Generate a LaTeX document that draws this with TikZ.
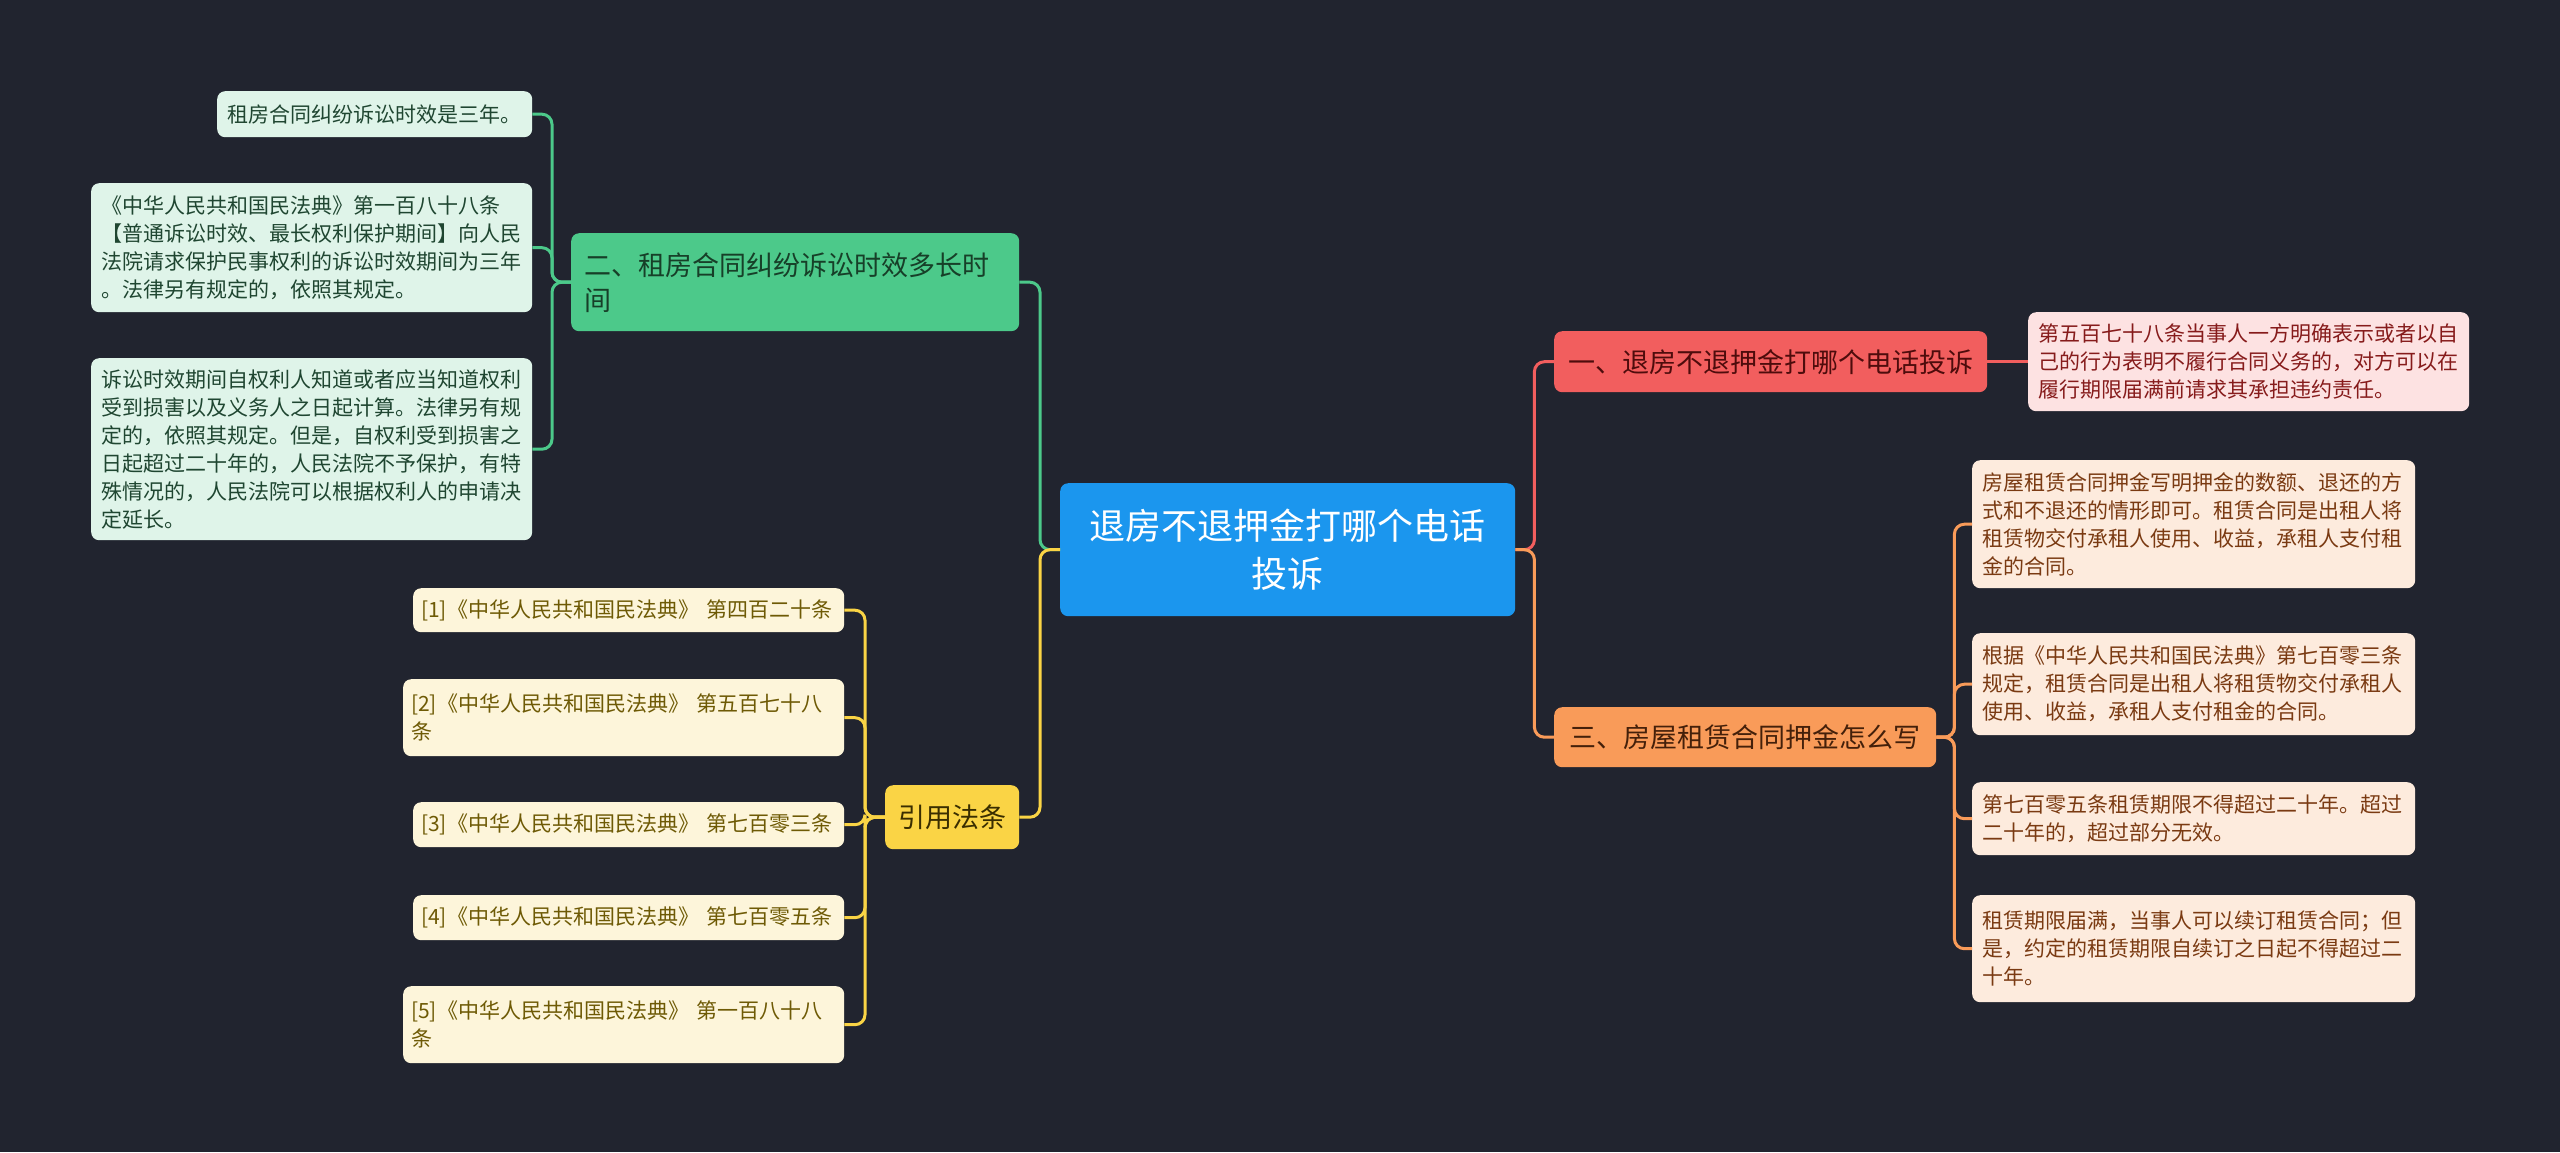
\documentclass[tikz,border=0pt]{standalone}
\usepackage{fontspec}
\setmainfont{Noto Sans CJK SC}
\definecolor{bg}{HTML}{21242F}
\definecolor{rootc}{HTML}{1B96EE}
\definecolor{gbr}{HTML}{4CC98A}
\definecolor{gtxt}{HTML}{173F28}
\definecolor{gleafc}{HTML}{DFF4E9}
\definecolor{gleaft}{HTML}{1F4631}
\definecolor{ybr}{HTML}{FAD445}
\definecolor{ytxt}{HTML}{3A2E00}
\definecolor{yleafc}{HTML}{FDF5DA}
\definecolor{yleaft}{HTML}{6E5A05}
\definecolor{rbr}{HTML}{F25E5E}
\definecolor{rtxt}{HTML}{4E0C0C}
\definecolor{rleafc}{HTML}{FDE2E2}
\definecolor{rleaft}{HTML}{861B1B}
\definecolor{obr}{HTML}{F99B59}
\definecolor{otxt}{HTML}{44200A}
\definecolor{oleafc}{HTML}{FDEBDD}
\definecolor{oleaft}{HTML}{7A3A12}
\tikzset{
  box/.style={anchor=north west, rounded corners=8pt, inner ysep=3pt},
  leaf/.style={box, inner xsep=10pt, align=left, font=\fontsize{21}{28}\selectfont},
  gleaf/.style={leaf, fill=gleafc, text=gleaft},
  yleaf/.style={leaf, fill=yleafc, text=yleaft, inner xsep=8pt},
  rleaf/.style={leaf, fill=rleafc, text=rleaft},
  oleaf/.style={leaf, fill=oleafc, text=oleaft},
  branch/.style={box, font=\fontsize{27}{35}\selectfont},
  conn/.style={line width=3pt, rounded corners=10pt},
}
\begin{document}
\begin{tikzpicture}[x=1pt,y=-1pt]
\fill[bg] (0,0) rectangle (2560,1152);
\useasboundingbox (0,0) rectangle (2560,1152);

% root
\node[box, fill=rootc, text=white, inner xsep=20pt, text width=415pt, minimum height=133pt, align=center,
  font=\fontsize{36}{48}\selectfont] (root) at (1060,483) {退房不退押金打哪个电话\\投诉};

% branches
\node[branch, fill=rbr, text=rtxt, inner xsep=13pt, text width=407pt, minimum height=61pt, align=center] (rb) at (1554,331) {一、退房不退押金打哪个电话投诉};
\node[branch, fill=obr, text=otxt, inner xsep=15pt, text width=352pt, minimum height=60pt, align=center] (ob) at (1554,707) {三、房屋租赁合同押金怎么写};
\node[branch, fill=gbr, text=gtxt, inner xsep=13pt, text width=422pt, minimum height=98pt, align=left] (gb) at (571,233) {二、租房合同纠纷诉讼时效多长时\\间};
\node[branch, fill=ybr, text=ytxt, inner xsep=12pt, text width=110pt, minimum height=64pt, align=center] (yb) at (885,785) {引用法条};

% green leaves
\node[gleaf, text width=295pt, minimum height=46pt] (g1) at (217,91) {租房合同纠纷诉讼时效是三年。};
\node[gleaf, text width=421pt, minimum height=129pt] (g2) at (91,183) {《中华人民共和国民法典》第一百八十八条\\【普通诉讼时效、最长权利保护期间】向人民\\法院请求保护民事权利的诉讼时效期间为三年\\。法律另有规定的，依照其规定。};
\node[gleaf, text width=421pt, minimum height=182pt] (g3) at (91,358) {诉讼时效期间自权利人知道或者应当知道权利\\受到损害以及义务人之日起计算。法律另有规\\定的，依照其规定。但是，自权利受到损害之\\日起超过二十年的，人民法院不予保护，有特\\殊情况的，人民法院可以根据权利人的申请决\\定延长。};

% yellow leaves
\node[yleaf, text width=415pt, minimum height=44pt] (y1) at (413,588) {[1]《中华人民共和国民法典》~第四百二十条};
\node[yleaf, text width=425pt, minimum height=77pt] (y2) at (403,679) {[2]《中华人民共和国民法典》~第五百七十八\\条};
\node[yleaf, text width=415pt, minimum height=45pt] (y3) at (413,802) {[3]《中华人民共和国民法典》~第七百零三条};
\node[yleaf, text width=415pt, minimum height=45pt] (y4) at (413,895) {[4]《中华人民共和国民法典》~第七百零五条};
\node[yleaf, text width=425pt, minimum height=77pt] (y5) at (403,986) {[5]《中华人民共和国民法典》~第一百八十八\\条};

% red leaf
\node[rleaf, text width=421pt, minimum height=99pt] (r1) at (2028,312) {第五百七十八条当事人一方明确表示或者以自\\己的行为表明不履行合同义务的，对方可以在\\履行期限届满前请求其承担违约责任。};

% orange leaves
\node[oleaf, text width=423pt, minimum height=128pt] (o1) at (1972,460) {房屋租赁合同押金写明押金的数额、退还的方\\式和不退还的情形即可。租赁合同是出租人将\\租赁物交付承租人使用、收益，承租人支付租\\金的合同。};
\node[oleaf, text width=423pt, minimum height=102pt] (o2) at (1972,633) {根据《中华人民共和国民法典》第七百零三条\\规定，租赁合同是出租人将租赁物交付承租人\\使用、收益，承租人支付租金的合同。};
\node[oleaf, text width=423pt, minimum height=73pt] (o3) at (1972,782) {第七百零五条租赁期限不得超过二十年。超过\\二十年的，超过部分无效。};
\node[oleaf, text width=423pt, minimum height=107pt] (o4) at (1972,895) {租赁期限届满，当事人可以续订租赁合同；但\\是，约定的租赁期限自续订之日起不得超过二\\十年。};

% connectors from root
\draw[conn, gbr] (root.west) -- ++(-20,0) |- (gb.east);
\draw[conn, ybr] (root.west) -- ++(-20,0) |- (yb.east);
\draw[conn, rbr] (root.east) -- ++(19,0) |- (rb.west);
\draw[conn, obr] (root.east) -- ++(19,0) |- (ob.west);

% red
\draw[conn, rbr] (rb.east) -- (r1.west);

% green
\foreach \n in {g1,g2,g3}
  \draw[conn, gbr] (gb.west) -- ++(-19,0) |- (\n.east);
% yellow
\foreach \n in {y1,y2,y3,y4,y5}
  \draw[conn, ybr] (yb.west) -- ++(-20,0) |- (\n.east);
% orange
\foreach \n in {o1,o2,o3,o4}
  \draw[conn, obr] (ob.east) -- ++(18,0) |- (\n.west);
\end{tikzpicture}
\end{document}
